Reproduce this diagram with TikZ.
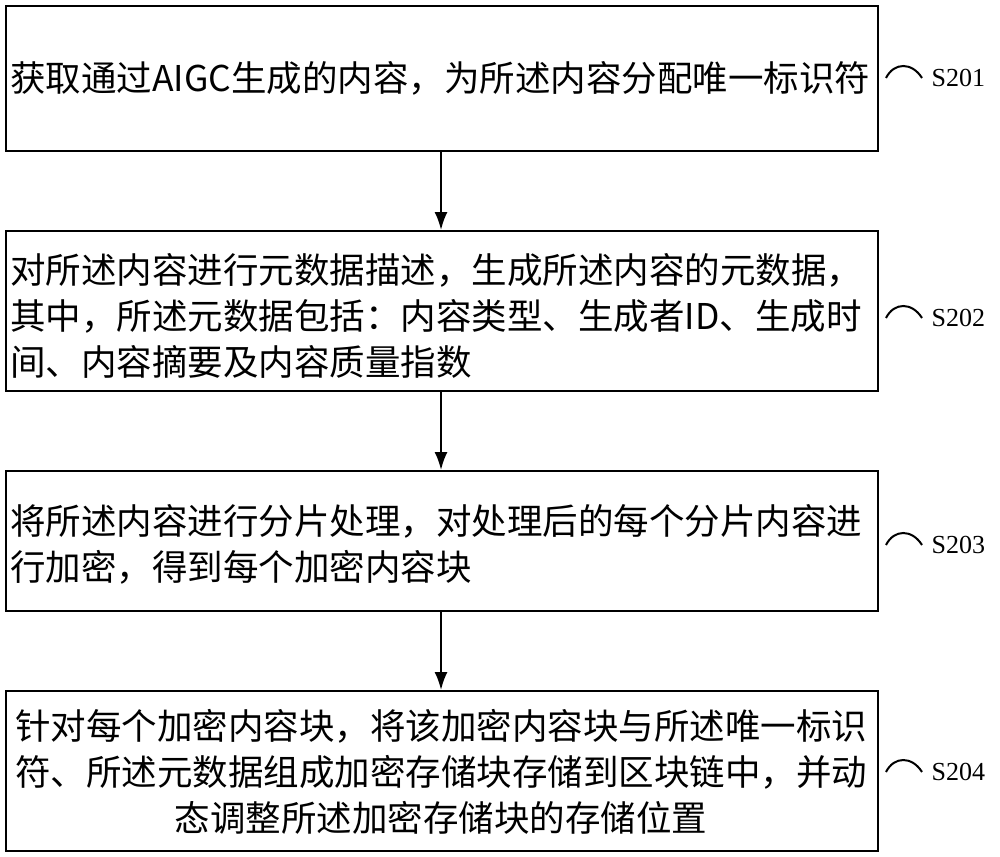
\documentclass[tikz,border=0pt]{standalone}
\usepackage{fontspec}
\setmainfont{Liberation Serif}
\newfontfamily\cjk{Noto Sans CJK SC}
\usetikzlibrary{arrows.meta}
\begin{document}
\begin{tikzpicture}[x=1pt,y=-1pt,
  box/.style={draw,line width=2pt,minimum width=872pt,anchor=north west,inner sep=0pt},
  txt/.style={font=\cjk\fontsize{35.5}{46}\selectfont,anchor=west,inner sep=0pt},
  arr/.style={-{Latex[length=18pt,width=13pt]},line width=2pt},
  lab/.style={font=\fontsize{26}{30}\selectfont,anchor=west}]
\useasboundingbox (0,0) rectangle (1000,856);
\node[box,minimum height=145pt] (b1) at (5,5) {};
\node[box,minimum height=160pt] (b2) at (5,230) {};
\node[box,minimum height=140pt] (b3) at (5,470) {};
\node[box,minimum height=160pt] (b4) at (5,690) {};
\node[txt,align=left] (t1) at (10,78) {获取通过AIGC生成的内容，为所述内容分配唯一标识符};
\node[txt,align=left] (t2) at (10,316) {对所述内容进行元数据描述，生成所述内容的元数据，\\其中，所述元数据包括：内容类型、生成者ID、生成时\\间、内容摘要及内容质量指数};
\node[txt,align=left] (t3) at (10,544) {将所述内容进行分片处理，对处理后的每个分片内容进\\行加密，得到每个加密内容块};
\node[txt,align=center,anchor=center] (t4) at (441,772) {针对每个加密内容块，将该加密内容块与所述唯一标识\\符、所述元数据组成加密存储块存储到区块链中，并动\\态调整所述加密存储块的存储位置};
\draw[arr] (b1.south -| 441,0) -- (b2.north -| 441,0);
\draw[arr] (b2.south -| 441,0) -- (b3.north -| 441,0);
\draw[arr] (b3.south -| 441,0) -- (b4.north -| 441,0);
\foreach \y/\s [count=\i] in {78/S201,318/S202,545/S203,772/S204}{
  \coordinate (c\i) at (886,\y);
  \draw[line width=2pt] (c\i) .. controls (894,\y-16) and (912,\y-16) .. (922,\y);
  \node[lab] (l\i) at (928,\y) {\s};
}
\end{tikzpicture}
\end{document}
